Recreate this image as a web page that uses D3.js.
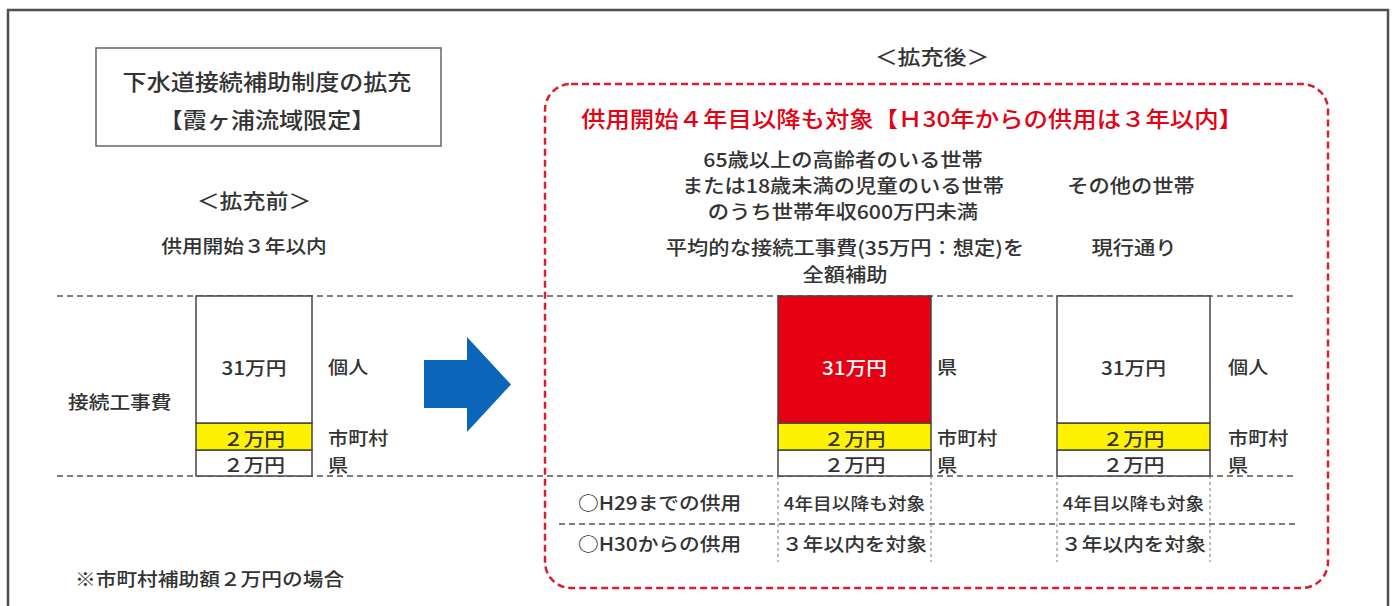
<!DOCTYPE html>
<html>
<head>
<meta charset="utf-8">
<script src="https://cdn.jsdelivr.net/npm/d3@7"></script>
<style>
  html, body { margin: 0; padding: 0; background: #fff; }
  svg { display: block; font-family: "Noto Sans CJK JP", "Noto Sans", sans-serif; }
</style>
</head>
<body>
<svg id="chart" width="1395" height="606"></svg>
<script>
// ---------------- data ----------------
const titleLines = ["下水道接続補助制度の拡充", "【霞ヶ浦流域限定】"];
const beforeHeading = "＜拡充前＞";
const beforeCondition = "供用開始３年以内";
const afterHeading = "＜拡充後＞";
const afterCondition = "供用開始４年目以降も対象【Ｈ30年からの供用は３年以内】";
const groupHeadings = [
  ["65歳以上の高齢者のいる世帯", "または18歳未満の児童のいる世帯", "のうち世帯年収600万円未満"],
  ["その他の世帯"]
];
const groupNotes = [
  ["平均的な接続工事費(35万円：想定)を", "全額補助"],
  ["現行通り"]
];
const columns = ["拡充前", "拡充後・対象世帯", "拡充後・その他の世帯"];
const segmentValues = [2, 2, 31];               // 万円, bottom -> top
const segmentValueLabels = ["２万円", "２万円", "31万円"];
const payers = [
  ["県", "市町村", "個人"],
  ["県", "市町村", "県"],
  ["県", "市町村", "個人"]
];
const costLabel = "接続工事費";
const rowLabels = ["○H29までの供用", "○H30からの供用"];
const rowValues = [
  ["4年目以降も対象", "4年目以降も対象"],
  ["３年以内を対象", "３年以内を対象"]
];
const footnote = "※市町村補助額２万円の場合";

// ---------------- drawing ----------------
const svg = d3.select("#chart");
const SX = 1.12;       // horizontal stretch of the original lettering
const ink = "#333";

function label(sel, x, y, s, o = {}) {
  return sel.append("text")
    .attr("transform", `translate(${x},${y}) scale(${o.sx || SX},1)`)
    .attr("text-anchor", o.anchor || "middle")
    .attr("dominant-baseline", "central")
    .style("font-size", (o.size || 19) + "px")
    .style("font-weight", o.weight || 500)
    .attr("fill", o.fill || ink)
    .text(s);
}

// outer frame
svg.append("path")
  .attr("d", "M8,612 L8,10 L1388,10 L1388,612")
  .attr("fill", "none").attr("stroke", "#505050").attr("stroke-width", 2.5);

// title box
svg.append("rect").attr("x", 96).attr("y", 48).attr("width", 345).attr("height", 98)
  .attr("fill", "none").attr("stroke", "#666").attr("stroke-width", 1.5);
titleLines.forEach((t, i) => label(svg, 267, 81 + i * 38, t, { size: 21.5 }));

// before headings
label(svg, 254, 200, beforeHeading, { size: 20.5 });
label(svg, 244, 245, beforeCondition, { size: 18.5 });

// after headings
label(svg, 932, 56, afterHeading, { size: 20.5 });
svg.append("rect").attr("x", 545).attr("y", 84).attr("width", 783).attr("height", 504)
  .attr("rx", 26).attr("ry", 26)
  .attr("fill", "none").attr("stroke", "#d7202f").attr("stroke-width", 2.5)
  .attr("stroke-dasharray", "7,4");
label(svg, 912, 118, afterCondition, { size: 21.5, sx: 1.135, fill: "#e50012" });

const groupCenters = [843, 1131];
groupHeadings.forEach((lines, g) => {
  const n = lines.length;
  lines.forEach((t, i) => label(svg, groupCenters[g], 185 + (i - (n - 1) / 2) * 26, t, { size: 19 }));
});
groupNotes.forEach((lines, g) => {
  lines.forEach((t, i) => label(svg, g === 0 ? 845 : 1134, 247 + i * 27, t, { size: 19 }));
});

// scales
const y = d3.scaleLinear().domain([0, 2, 4, 35]).range([476, 450, 423, 296]);
const xLeft = d3.scaleOrdinal().domain(columns).range([196, 778, 1057]);
const xWidth = d3.scaleOrdinal().domain(columns).range([116, 153, 153]);
const sideX = d3.scaleOrdinal().domain(columns).range([328, 937, 1228]);

// guide dashed lines
const dashCol = "#555";
[y(35), y(0)].forEach(v => svg.append("line")
  .attr("x1", 57).attr("x2", 1297).attr("y1", v).attr("y2", v)
  .attr("stroke", dashCol).attr("stroke-width", 1.6).attr("stroke-dasharray", "6,4"));

const cum = d3.cumsum(segmentValues);
function segFill(ci, si) {
  if (si === 1) return "#fff200";
  if (ci === 1 && si === 2) return "#e60012";
  return "#fff";
}

columns.forEach((c, ci) => {
  const g = svg.append("g");
  const x0 = xLeft(c), w = xWidth(c);
  g.selectAll("rect.seg").data(segmentValues).join("rect")
    .attr("class", "seg")
    .attr("x", x0)
    .attr("y", (d, i) => y(cum[i]))
    .attr("width", w)
    .attr("height", (d, i) => y(cum[i] - d) - y(cum[i]))
    .attr("fill", (d, i) => segFill(ci, i))
    .attr("stroke", "#444").attr("stroke-width", 1.5);
  segmentValues.forEach((d, i) => {
    const cy = (y(cum[i]) + y(cum[i] - d)) / 2 + (i === 2 ? 7 : 1);
    label(g, x0 + w / 2, cy, segmentValueLabels[i],
      { size: 18.5, fill: segFill(ci, i) === "#e60012" ? "#fff" : ink });
    label(g, sideX(c), cy, payers[ci][i], { size: 18, anchor: "start" });
  });
});

// left side labels
label(svg, 68, 401, costLabel, { size: 18.5, anchor: "start" });
label(svg, 75, 578, footnote, { size: 18.5, anchor: "start" });

// arrow
svg.append("path")
  .attr("d", "M424,360 L467,360 L467,337 L511,384.5 L467,432 L467,408 L424,408 Z")
  .attr("fill", "#0b65b8");

// table
svg.append("line").attr("x1", 559).attr("x2", 1297).attr("y1", 524).attr("y2", 524)
  .attr("stroke", dashCol).attr("stroke-width", 1.6).attr("stroke-dasharray", "6,4");
columns.slice(1).forEach(c => {
  [xLeft(c), xLeft(c) + xWidth(c)].forEach(xv => svg.append("line")
    .attr("x1", xv).attr("x2", xv).attr("y1", y(0)).attr("y2", 562)
    .attr("stroke", "#777").attr("stroke-width", 1).attr("stroke-dasharray", "3,3"));
});
const rowY = [502, 543];
rowLabels.forEach((t, r) => {
  label(svg, 578, rowY[r], t, { size: 18.5, anchor: "start" });
  rowValues[r].forEach((v, k) => {
    const c = columns[k + 1];
    label(svg, xLeft(c) + xWidth(c) / 2, rowY[r], v, { size: r === 0 ? 17 : 18.5, sx: r === 0 ? 1.1 : 1.12 });
  });
});
</script>
</body>
</html>
